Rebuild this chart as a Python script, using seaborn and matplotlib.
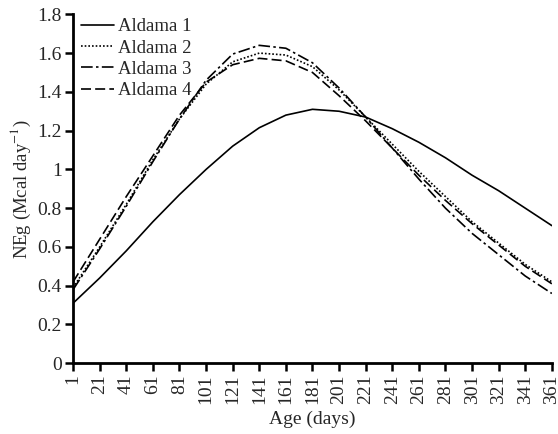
import pandas as pd
import seaborn as sns
import matplotlib.pyplot as plt

# Ages (days) and NEg values
ages = [1, 21, 41, 61, 81, 101, 121, 141, 161, 181, 201, 221, 241, 261, 281, 301, 321, 341, 361]
aldama1 = [0.31, 0.44, 0.58, 0.73, 0.87, 1.00, 1.12, 1.215, 1.28, 1.31, 1.30, 1.27, 1.21, 1.14, 1.06, 0.97, 0.89, 0.80, 0.71]
aldama2 = [0.39, 0.60, 0.82, 1.05, 1.26, 1.44, 1.555, 1.60, 1.59, 1.53, 1.41, 1.27, 1.13, 0.99, 0.86, 0.73, 0.62, 0.51, 0.42]
aldama3 = [0.38, 0.59, 0.81, 1.04, 1.26, 1.46, 1.595, 1.64, 1.625, 1.55, 1.42, 1.27, 1.11, 0.95, 0.80, 0.67, 0.56, 0.45, 0.36]
aldama4 = [0.42, 0.64, 0.86, 1.07, 1.28, 1.45, 1.54, 1.573, 1.56, 1.50, 1.38, 1.25, 1.11, 0.97, 0.84, 0.72, 0.61, 0.50, 0.41]
names = ["Aldama 1", "Aldama 2", "Aldama 3", "Aldama 4"]

df = pd.DataFrame({
    "Age": ages * 4,
    "NEg": aldama1 + aldama2 + aldama3 + aldama4,
    "Line": [n for n in names for _ in ages],
})

sns.set_style("ticks")
plt.rcParams["font.family"] = ["Liberation Serif", "DejaVu Serif"]
plt.rcParams["mathtext.fontset"] = "stix"

fig = plt.figure(figsize=(5.58, 4.34), dpi=100)
ax = fig.add_axes([0.131, 0.163, 0.858, 0.804])

dash_map = {"Aldama 1": "", "Aldama 2": (1, 1.2), "Aldama 3": (7, 2, 1.5, 2), "Aldama 4": (6, 2.5)}
sns.lineplot(data=df, x="Age", y="NEg", hue="Line", style="Line",
             palette=["black"] * 4, dashes=dash_map, linewidth=1.2, ax=ax)

ax.set_xlim(1, 361)
ax.set_ylim(0, 1.8)
ax.set_xticks(ages)
ax.set_xticklabels([str(a) for a in ages], rotation=90)
yt = [0, 0.2, 0.4, 0.6, 0.8, 1.0, 1.2, 1.4, 1.6, 1.8]
ax.set_yticks(yt)
ax.set_yticklabels(["0", "0.2", "0.4", "0.6", "0.8", "1", "1.2", "1.4", "1.6", "1.8"])
ax.tick_params(axis="both", direction="out", length=6, width=1.8, labelsize=14, pad=2, color="black")

for side in ["left", "bottom"]:
    ax.spines[side].set_linewidth(2)
    ax.spines[side].set_color("black")
sns.despine(ax=ax)

ax.set_xlabel("Age (days)", fontsize=14, labelpad=5)
ax.set_ylabel(r"NEg (Mcal day$^{-1}$)", fontsize=13.5, labelpad=3)

ax.legend(frameon=False, loc="upper left", bbox_to_anchor=(0.0, 1.01), fontsize=13.5,
          handlelength=1.8, handletextpad=0.2, labelspacing=0.22, borderaxespad=0)

plt.savefig("out.png", dpi=100)
